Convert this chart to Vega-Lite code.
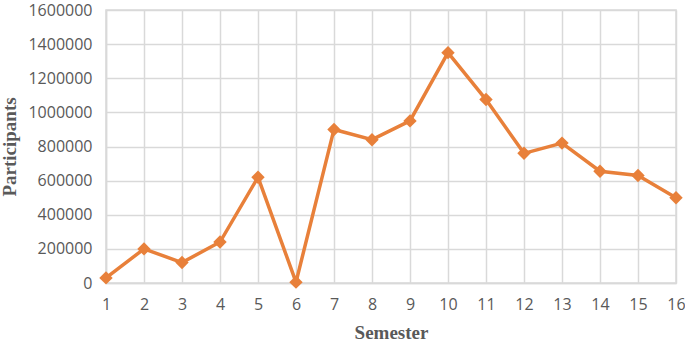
{
  "$schema": "https://vega.github.io/schema/vega-lite/v6.json",
  "width": 570,
  "height": 273,
  "autosize": {"type": "none"},
  "padding": {"left": 106, "top": 10, "right": 9, "bottom": 60},
  "background": "white",
  "config": {"view": {"stroke": "#d9d9d9", "strokeWidth": 1.5}},
  "data": {"values": [
    {"semester": 1, "participants": 30000},
    {"semester": 2, "participants": 200000},
    {"semester": 3, "participants": 120000},
    {"semester": 4, "participants": 240000},
    {"semester": 5, "participants": 620000},
    {"semester": 6, "participants": 5000},
    {"semester": 7, "participants": 900000},
    {"semester": 8, "participants": 840000},
    {"semester": 9, "participants": 950000},
    {"semester": 10, "participants": 1350000},
    {"semester": 11, "participants": 1075000},
    {"semester": 12, "participants": 760000},
    {"semester": 13, "participants": 820000},
    {"semester": 14, "participants": 655000},
    {"semester": 15, "participants": 630000},
    {"semester": 16, "participants": 500000}
  ]},
  "encoding": {
    "x": {
      "field": "semester", "type": "quantitative",
      "scale": {"domain": [1, 16], "nice": false, "zero": false},
      "axis": {
        "title": "Semester", "values": [1,2,3,4,5,6,7,8,9,10,11,12,13,14,15,16],
        "labelOverlap": false, "labelFlush": false,
        "grid": true, "gridColor": "#d9d9d9", "gridWidth": 1.5,
        "domainColor": "#d9d9d9", "domainWidth": 1.5, "ticks": false,
        "labelFont": "Open Sans", "labelFontSize": 16, "labelColor": "#595959", "labelPadding": 13,
        "titleFont": "Liberation Serif", "titleFontSize": 19, "titleFontWeight": "bold", "titleColor": "#595959", "titlePadding": 11
      }
    },
    "y": {
      "field": "participants", "type": "quantitative",
      "scale": {"domain": [0, 1600000], "nice": false},
      "axis": {
        "title": "Participants", "values": [0,200000,400000,600000,800000,1000000,1200000,1400000,1600000],
        "format": "d", "labelOverlap": false, "labelFlush": false,
        "grid": true, "gridColor": "#d9d9d9", "gridWidth": 1.5,
        "domainColor": "#d9d9d9", "domainWidth": 1.5, "ticks": false,
        "labelFont": "Open Sans", "labelFontSize": 16, "labelColor": "#595959", "labelPadding": 14,
        "titleFont": "Liberation Serif", "titleFontSize": 19, "titleFontWeight": "bold", "titleColor": "#595959", "titlePadding": 8
      }
    }
  },
  "layer": [
    {"mark": {"type": "line", "color": "#E8803A", "strokeWidth": 3.5}},
    {"mark": {"type": "point", "shape": "diamond", "filled": true, "color": "#E8803A", "size": 180, "opacity": 1}}
  ]
}
